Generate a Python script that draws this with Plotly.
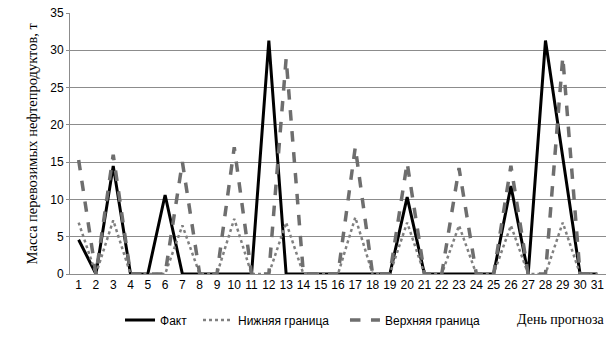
import plotly.graph_objects as go

days = list(range(1, 32))
day_labels = [str(d) for d in days]

fakt = [4.6, 0, 14.5, 0, 0, 10.6, 0, 0, 0, 0, 0, 31.3, 0, 0, 0, 0, 0, 0, 0, 10.3, 0, 0, 0, 0, 0, 11.8, 0, 31.3, 15.6, 0, 0]
lower = [6.9, 0, 7.2, 0, 0, 0, 6.5, 0, 0, 7.4, 0, 0, 6.9, 0, 0, 0, 7.6, 0, 0, 6.9, 0, 0, 6.5, 0, 0, 6.5, 0, 0, 6.9, 0, 0]
upper = [15.3, 0, 16.0, 0, 0, 0, 15.0, 0, 0, 17.0, 0, 0, 28.9, 0, 0, 0, 17.0, 0, 0, 14.9, 0, 0, 14.2, 0, 0, 14.5, 0, 0, 29.1, 0, 0]

y_ticks = [0, 5, 10, 15, 20, 25, 30, 35]

SERIF = "Liberation Serif"
SANS = "Liberation Sans"

fig = go.Figure()
fig.add_trace(go.Scatter(x=day_labels, y=fakt, name="Факт", mode="lines",
                         line=dict(color="black", width=3), legend="legend"))
fig.add_trace(go.Scatter(x=day_labels, y=lower, name="Нижняя граница", mode="lines",
                         line=dict(color="#808080", width=2.5, dash="dot"), legend="legend2"))
fig.add_trace(go.Scatter(x=day_labels, y=upper, name="Верхняя граница", mode="lines",
                         line=dict(color="#6e6e6e", width=3.5, dash="dash"), legend="legend3"))

leg_common = dict(orientation="h", xanchor="left", y=-0.176, yanchor="middle",
                  font=dict(family=SANS, size=12, color="black"),
                  bgcolor="rgba(0,0,0,0)", borderwidth=0)

fig.update_layout(
    width=616, height=344,
    margin=dict(l=70, r=10, t=13, b=70),
    plot_bgcolor="white", paper_bgcolor="white",
    showlegend=True,
    legend=dict(x=0.0933, **leg_common),
    legend2=dict(x=0.2388, **leg_common),
    legend3=dict(x=0.513, **leg_common),
    xaxis=dict(type="category", tickmode="array", tickvals=day_labels, ticktext=day_labels,
               range=[-0.5, 30.5],
               showgrid=False, showline=True, linecolor="#8c8c8c", linewidth=1,
               ticks="", tickfont=dict(family=SANS, size=12, color="black"),
               zeroline=False, automargin=False),
    yaxis=dict(range=[0, 35], tickvals=y_ticks, showgrid=True, gridcolor="#8c8c8c", gridwidth=1,
               showline=True, linecolor="#8c8c8c", linewidth=1, zeroline=False,
               ticks="outside", ticklen=3, tickcolor="#8c8c8c",
               tickfont=dict(family=SANS, size=12, color="black"),
               automargin=False),
    annotations=[
        dict(text="Масса перевозимых нефтепродуктов, т", xref="paper", yref="paper",
             x=-0.071, y=0.5, xanchor="center", yanchor="middle", textangle=-90,
             showarrow=False, font=dict(family=SERIF, size=14.5, color="black")),
        dict(text="День прогноза", xref="paper", yref="paper", x=1.002, y=-0.176,
             xanchor="right", yanchor="middle", showarrow=False,
             font=dict(family=SERIF, size=14, color="black")),
    ],
)

fig.write_html("out.html", config={"displayModeBar": False},
               post_script="document.body.style.margin='0';document.body.style.padding='0';")
